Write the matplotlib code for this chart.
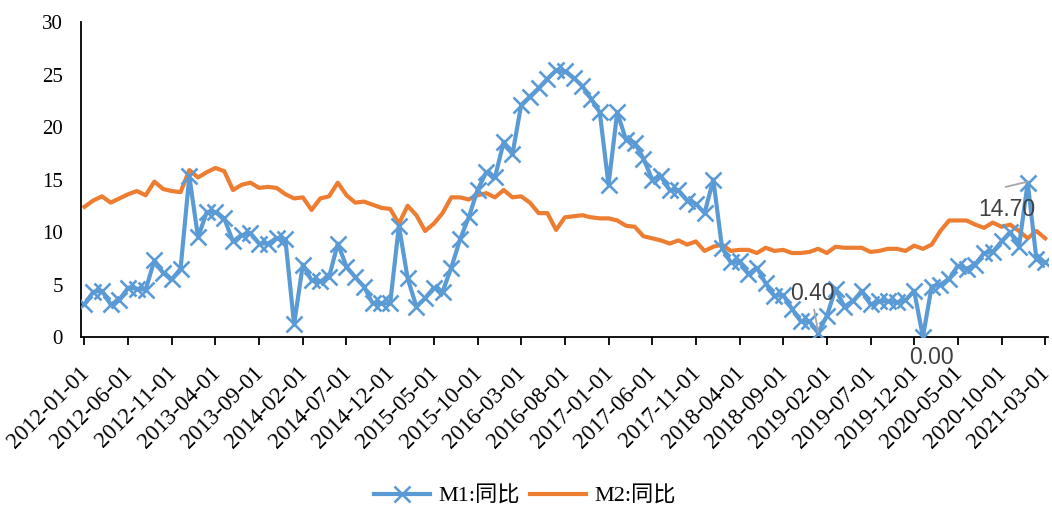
import matplotlib
matplotlib.use("Agg")
import matplotlib.pyplot as plt
import matplotlib.transforms as mtransforms
import pandas as pd

# Monthly series, 2012-01 .. 2021-03 (year-on-year growth, %)
dates = pd.date_range("2012-01-01", periods=111, freq="MS")

m1_yoy = [
    3.1, 4.3, 4.4, 3.1, 3.5, 4.7, 4.6, 4.5, 7.3, 6.1, 5.5, 6.5,
    15.3, 9.5, 11.9, 11.9, 11.3, 9.1, 9.7, 9.9, 8.9, 8.9, 9.4, 9.3,
    1.2, 6.9, 5.4, 5.3, 5.7, 8.9, 6.7, 5.7, 4.8, 3.2, 3.2, 3.2,
    10.6, 5.6, 2.9, 3.7, 4.7, 4.3, 6.6, 9.3, 11.4, 14.0, 15.7, 15.2,
    18.6, 17.4, 22.1, 22.9, 23.7, 24.6, 25.4, 25.3, 24.7, 23.9, 22.7, 21.4,
    14.5, 21.4, 18.8, 18.5, 17.0, 15.0, 15.3, 14.0, 14.0, 13.0, 12.7, 11.8,
    15.0, 8.5, 7.1, 7.2, 6.0, 6.6, 5.1, 3.9, 4.0, 2.7, 1.5, 1.5,
    0.4, 2.0, 4.6, 2.9, 3.4, 4.4, 3.1, 3.4, 3.4, 3.3, 3.5, 4.4,
    0.0, 4.8, 5.0, 5.5, 6.8, 6.5, 6.9, 8.0, 8.1, 9.1, 10.0, 8.6,
    14.7, 7.4, 7.1,
]

m2_yoy = [
    12.4, 13.0, 13.4, 12.8, 13.2, 13.6, 13.9, 13.5, 14.8, 14.1, 13.9, 13.8,
    15.9, 15.2, 15.7, 16.1, 15.8, 14.0, 14.5, 14.7, 14.2, 14.3, 14.2, 13.6,
    13.2, 13.3, 12.1, 13.2, 13.4, 14.7, 13.5, 12.8, 12.9, 12.6, 12.3, 12.2,
    10.8, 12.5, 11.6, 10.1, 10.8, 11.8, 13.3, 13.3, 13.1, 13.5, 13.7, 13.3,
    14.0, 13.3, 13.4, 12.8, 11.8, 11.8, 10.2, 11.4, 11.5, 11.6, 11.4, 11.3,
    11.3, 11.1, 10.6, 10.5, 9.6, 9.4, 9.2, 8.9, 9.2, 8.8, 9.1, 8.2,
    8.6, 8.8, 8.2, 8.3, 8.3, 8.0, 8.5, 8.2, 8.3, 8.0, 8.0, 8.1,
    8.4, 8.0, 8.6, 8.5, 8.5, 8.5, 8.1, 8.2, 8.4, 8.4, 8.2, 8.7,
    8.4, 8.8, 10.1, 11.1, 11.1, 11.1, 10.7, 10.4, 10.9, 10.5, 10.7, 10.1,
    9.4, 10.1, 9.4,
]

series_names = ["M1:同比", "M2:同比"]
labelled_months = ["2019-01-01", "2020-01-01", "2021-01-01"]

y_ticks = [0, 5, 10, 15, 20, 25, 30]
tick_step = 5

BLUE = "#5B9BD5"
ORANGE = "#ED7D31"
LABEL_GREY = "#404040"
LEADER_GREY = "#A6A6A6"

plt.rcParams["font.family"] = ["Liberation Serif", "Noto Sans CJK SC"]

fig = plt.figure(figsize=(10.52, 5.08), dpi=100)
ax = fig.add_axes([0.077, 0.3366, 0.919, 0.62])

x = list(range(len(dates)))
ax.plot(x, m1_yoy, color=BLUE, lw=3.0, marker="x", ms=11, mew=1.9,
        label=series_names[0], zorder=3)
ax.plot(x, m2_yoy, color=ORANGE, lw=3.0, label=series_names[1], zorder=2)

ax.set_xlim(-0.4, 110.3)
ax.set_ylim(0, 30)
ax.set_yticks(y_ticks)
ax.set_yticklabels([str(v) for v in y_ticks], fontsize=15)
ax.tick_params(axis="y", length=0, pad=13)

tick_idx = x[::tick_step]
ax.set_xticks(tick_idx)
ax.set_xticklabels([dates[i].strftime("%Y-%m-%d") for i in tick_idx],
                   rotation=45, ha="right", rotation_mode="anchor", fontsize=16.5)
ax.tick_params(axis="x", direction="out", length=6, width=1.3, pad=10)
shift = mtransforms.ScaledTranslation(-6 / 100, -3 / 100, fig.dpi_scale_trans)
for lbl in ax.get_xticklabels():
    lbl.set_transform(lbl.get_transform() + shift)

for side in ("top", "right"):
    ax.spines[side].set_visible(False)
for side in ("left", "bottom"):
    ax.spines[side].set_linewidth(1.3)
    ax.spines[side].set_color("#000000")

# Data labels on selected M1 points (offsets in points)
date_str = [d.strftime("%Y-%m-%d") for d in dates]
label_offsets = {
    "2019-01-01": (-4, 28),
    "2020-01-01": (6.5, -15),
    "2021-01-01": (-15, -19),
}
# Leader lines: start relative to the point, in data units
leaders = {
    "2019-01-01": (-0.45, 2.2),
    "2021-01-01": (-2.5, -0.4),
}
for month in labelled_months:
    i = date_str.index(month)
    v = m1_yoy[i]
    dx, dy = label_offsets[month]
    ax.annotate(f"{v:.2f}", xy=(i, v), xytext=(dx, dy), textcoords="offset points",
                ha="center", va="center", fontsize=16.5, color=LABEL_GREY,
                family="Liberation Sans", annotation_clip=False, zorder=5)
    if month in leaders:
        lx, ly = leaders[month]
        ax.plot([i + lx, i], [v + ly, v + 0.1], color=LEADER_GREY, lw=1.3,
                zorder=4, clip_on=False)

fig.legend(loc="center", bbox_to_anchor=(0.499, 1 - 496 / 508), ncol=2, frameon=False,
           fontsize=16, handlelength=2.5, columnspacing=0.45, handletextpad=0.4)

fig.savefig("out.png", dpi=100)
